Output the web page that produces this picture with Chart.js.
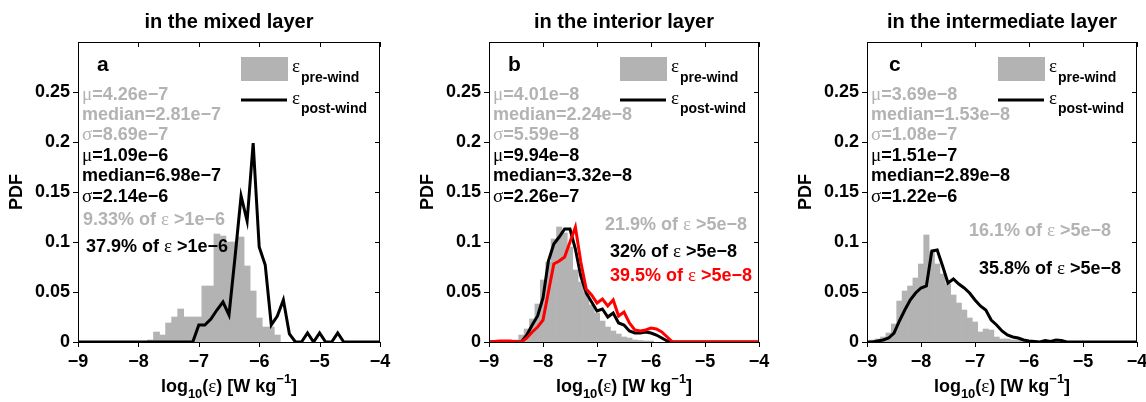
<!DOCTYPE html>
<html><head><meta charset="utf-8">
<script src="https://cdn.jsdelivr.net/npm/chart.js@4.4.1/dist/chart.umd.min.js"></script>
<style>
html,body{margin:0;padding:0;background:#fff;overflow:hidden;width:1146px;height:402px;}
canvas{position:absolute;top:0;}
</style></head><body>
<canvas id="ca" width="400" height="402" style="left:0px"></canvas>
<canvas id="cb" width="392" height="402" style="left:390px"></canvas>
<canvas id="cc" width="392" height="402" style="left:770px"></canvas>
<script>
// ---------- data ----------
const xTicks = [-9, -8, -7, -6, -5, -4];
const yTicks = [0, 0.05, 0.1, 0.15, 0.2, 0.25];
const titles = ['in the mixed layer', 'in the interior layer', 'in the intermediate layer'];
const panelLetters = ['a', 'b', 'c'];

// panel a (mixed layer)
const preA_x = [-7.8,-7.7,-7.6,-7.5,-7.4,-7.3,-7.2,-7.1,-7.0,-6.9,-6.8,-6.7,-6.6,-6.5,-6.4,-6.3,-6.2,-6.1,-6.0,-5.9,-5.8,-5.7];
const preA_y = [0.002,0.010,0.007,0.019,0.025,0.033,0.025,0.025,0.025,0.056,0.056,0.108,0.106,0.100,0.100,0.105,0.076,0.051,0.024,0.015,0.015,0.007];
const postA_x = [-9,-7.1,-7.0,-6.9,-6.8,-6.7,-6.6,-6.5,-6.4,-6.3,-6.2,-6.1,-6.0,-5.9,-5.8,-5.7,-5.6,-5.5,-5.4,-5.3,-5.2,-5.1,-5.0,-4.9,-4.8,-4.7,-4.6,-4];
const postA_y = [0,0,0.017,0.017,0.023,0.032,0.040,0.027,0.085,0.146,0.121,0.199,0.095,0.077,0.017,0.026,0.042,0.008,0,0,0.009,0,0.009,0,0,0.009,0,0];

// panel b (interior layer)
const preB_x = [-8.7,-8.6,-8.5,-8.4,-8.3,-8.2,-8.1,-8.0,-7.9,-7.8,-7.7,-7.6,-7.5,-7.4,-7.3,-7.2,-7.1,-7.0,-6.9,-6.8,-6.7,-6.6,-6.5,-6.4,-6.3,-6.2,-6.1,-6.0];
const preB_y = [0.0005,0.001,0.002,0.007,0.013,0.023,0.038,0.062,0.080,0.103,0.115,0.109,0.095,0.072,0.060,0.049,0.037,0.029,0.021,0.015,0.011,0.008,0.005,0.004,0.002,0.0015,0.001,0.001];
const postB_x = [-9,-8.4,-8.3,-8.2,-8.1,-8.0,-7.9,-7.8,-7.7,-7.6,-7.5,-7.4,-7.3,-7.2,-7.1,-7.0,-6.9,-6.8,-6.7,-6.6,-6.5,-6.4,-6.3,-6.2,-6.1,-6.0,-5.9,-5.8,-5.7,-5.6,-4];
const postB_y = [0,0,0.007,0.017,0.026,0.044,0.081,0.098,0.105,0.113,0.113,0.093,0.066,0.049,0.040,0.031,0.033,0.025,0.029,0.019,0.017,0.011,0.009,0.009,0.010,0.009,0.007,0.004,0.001,0,0];
const redB_x = [-9,-8.8,-8.7,-8.6,-8.5,-8.4,-8.3,-8.2,-8.1,-8.0,-7.9,-7.8,-7.7,-7.6,-7.5,-7.4,-7.3,-7.2,-7.1,-7.0,-6.9,-6.8,-6.7,-6.6,-6.5,-6.4,-6.3,-6.2,-6.1,-6.0,-5.9,-5.8,-5.7,-5.6,-4];
const redB_y = [0,0.001,0.001,0.001,0,0,0.004,0.010,0.015,0.022,0.050,0.078,0.081,0.085,0.100,0.115,0.080,0.053,0.047,0.039,0.043,0.036,0.042,0.026,0.030,0.019,0.012,0.011,0.012,0.014,0.013,0.010,0.005,0,0];

// panel c (intermediate layer)
const preC_x = [-8.9,-8.8,-8.7,-8.6,-8.5,-8.4,-8.3,-8.2,-8.1,-8.0,-7.9,-7.8,-7.7,-7.6,-7.5,-7.4,-7.3,-7.2,-7.1,-7.0,-6.9,-6.8,-6.7,-6.6,-6.5,-6.4,-6.3,-6.2,-6.1,-6.0,-5.9,-5.8,-5.7,-5.6,-5.5];
const preC_y = [0.002,0.003,0.005,0.009,0.018,0.041,0.051,0.056,0.064,0.078,0.107,0.090,0.078,0.068,0.058,0.047,0.039,0.032,0.024,0.020,0.010,0.013,0.012,0.005,0.003,0.003,0.002,0.002,0.001,0.001,0.001,0.0005,0.0005,0.0005,0.0005];
const postC_x = [-9,-8.9,-8.8,-8.7,-8.6,-8.5,-8.4,-8.3,-8.2,-8.1,-8.0,-7.9,-7.8,-7.7,-7.6,-7.5,-7.4,-7.3,-7.2,-7.1,-7.0,-6.9,-6.8,-6.7,-6.6,-6.5,-6.4,-6.3,-6.2,-6.1,-6.0,-5.9,-5.8,-5.7,-5.6,-5.5,-5.4,-5.3,-4];
const postC_y = [0,0,0.001,0.002,0.004,0.009,0.021,0.032,0.042,0.049,0.054,0.056,0.091,0.092,0.076,0.059,0.063,0.058,0.054,0.049,0.042,0.036,0.032,0.022,0.017,0.011,0.007,0.005,0.004,0.002,0.001,0.0005,0,0.0015,0.0005,0.002,0.0015,0,0];

// annotation texts
const statsA = ['μ=4.26e−7','median=2.81e−7','σ=8.69e−7','μ=1.09e−6','median=6.98e−7','σ=2.14e−6'];
const statsB = ['μ=4.01e−8','median=2.24e−8','σ=5.59e−8','μ=9.94e−8','median=3.32e−8','σ=2.26e−7'];
const statsC = ['μ=3.69e−8','median=1.53e−8','σ=1.08e−7','μ=1.51e−7','median=2.89e−8','σ=1.22e−6'];
const pctA = ['9.33% of ε >1e−6','37.9% of ε >1e−6'];
const pctB = ['21.9% of ε >5e−8','32% of ε >5e−8','39.5% of ε >5e−8'];
const pctC = ['16.1% of ε >5e−8','35.8% of ε >5e−8'];
const legendLabels = ['pre-wind', 'post-wind'];

// ---------- styling / drawing ----------
const FONT = "'Liberation Sans', Arial, Helvetica, sans-serif";
const GREEK = "'Liberation Serif', 'DejaVu Serif', serif";
const GRAY = '#b3b3b3';
const RED = '#ff0000';

function runs(str){
  const out=[]; for(const ch of str){ const g=/[μσε]/.test(ch);
    if(out.length && out[out.length-1].g===g) out[out.length-1].t+=ch; else out.push({t:ch,g}); }
  return out;
}
function fontFor(g,size){ return g ? `${Math.round(size*1.05)}px ${GREEK}` : `bold ${size}px ${FONT}`; }
function richWidth(ctx,str,size){ let w=0; for(const r of runs(str)){ ctx.font=fontFor(r.g,size); w+=ctx.measureText(r.t).width; } return w; }
function drawRich(ctx,str,x,y,color,size){
  ctx.fillStyle=color; ctx.textBaseline='alphabetic'; ctx.textAlign='left';
  for(const r of runs(str)){ ctx.font=fontFor(r.g,size); ctx.fillText(r.t,x,y); x+=ctx.measureText(r.t).width; }
  return x;
}
function pts(xs,ys){ return xs.map((x,i)=>({x, y: ys[i]})); }
function fmtX(v){ return v<0 ? '\u2212'+(-v) : String(v); }

function makePanel(id, o){
  const deco = {
    id:'deco',
    afterDraw(chart){
      const ctx=chart.ctx, a=chart.chartArea, xs=chart.scales.x, ys=chart.scales.y;
      const L=Math.round(a.left), R=Math.round(a.right), T=Math.round(a.top), B=Math.round(a.bottom);
      ctx.save();
      ctx.strokeStyle='#000'; ctx.lineWidth=1;
      ctx.strokeRect(L+0.5,T+0.5,R-L-1,B-T);
      ctx.beginPath();
      xTicks.forEach(v=>{ const p=Math.round(xs.getPixelForValue(v))+0.5;
        ctx.moveTo(p,B); ctx.lineTo(p,B+5); ctx.moveTo(p,T); ctx.lineTo(p,T+5); });
      yTicks.forEach(v=>{ const p=Math.round(ys.getPixelForValue(v))+0.5;
        ctx.moveTo(L-5,p); ctx.lineTo(L,p); ctx.moveTo(R-5,p); ctx.lineTo(R,p); });
      ctx.stroke();
      // title
      ctx.fillStyle='#000'; ctx.font=`bold 20px ${FONT}`; ctx.textAlign='center'; ctx.textBaseline='alphabetic';
      ctx.fillText(o.title,(L+R)/2,28);
      // letter
      ctx.textAlign='left'; ctx.font=`bold 21px ${FONT}`;
      ctx.fillText(o.letter,L+o.letterDx,71);
      // PDF label
      ctx.save(); ctx.translate(L-61,(T+B)/2); ctx.rotate(-Math.PI/2);
      ctx.textAlign='center'; ctx.textBaseline='middle'; ctx.font=`bold 18px ${FONT}`; ctx.fillText('PDF',0,0); ctx.restore();
      // x label
      const parts=[{t:'log',s:18,dy:0},{t:'10',s:13,dy:6},{t:'(ε) [W kg',s:18,dy:0},{t:'−1',s:13,dy:-9},{t:']',s:18,dy:0}];
      let tw=0; parts.forEach(p=>tw+=richWidth(ctx,p.t,p.s));
      let xx=(L+R)/2-tw/2;
      parts.forEach(p=>{ xx=drawRich(ctx,p.t,xx,392+p.dy,'#000',p.s); });
      // stats
      o.stats.forEach((s,i)=>{ drawRich(ctx,s,L+4,T+51+20.4*i+6.5, i<3?GRAY:'#000',18); });
      o.pcts.forEach(p=>{ drawRich(ctx,p.t,L+p.dx,p.cy+6.5,p.c,18); });
      // legend
      ctx.fillStyle=GRAY; ctx.fillRect(R-139,57,47,24);
      ctx.strokeStyle='#000'; ctx.lineWidth=3; ctx.beginPath(); ctx.moveTo(R-139,100); ctx.lineTo(R-93,100); ctx.stroke();
      let ex=drawRich(ctx,'ε',R-88,72,'#000',18);
      ctx.font=`bold 14px ${FONT}`; ctx.fillText(legendLabels[0],ex+1,82);
      ex=drawRich(ctx,'ε',R-88,104,'#000',18);
      ctx.font=`bold 14px ${FONT}`; ctx.fillText(legendLabels[1],ex+1,113);
      ctx.restore();
    }
  };
  const datasets=[{type:'bar', data:pts(o.preX,o.preY), backgroundColor:GRAY, borderWidth:0,
      barPercentage:1, categoryPercentage:1, order:3}];
  o.lines.forEach((ln,i)=>datasets.push({type:'line', data:pts(ln.x,ln.y), borderColor:ln.color,
      borderWidth:3, pointRadius:0, tension:0, fill:false, order:ln.order, borderJoinStyle:'miter'}));
  return new Chart(document.getElementById(id), {
    type:'bar',
    data:{datasets},
    plugins:[deco],
    options:{
      responsive:false, animation:false, devicePixelRatio:1,
      layout:{padding:{left:0, top:42, right:o.padRight, bottom:0}},
      plugins:{legend:{display:false}, tooltip:{enabled:false}},
      scales:{
        x:{type:'linear', min:-9, max:-4, offset:false,
           afterBuildTicks:s=>{ s.ticks=xTicks.map(v=>({value:v})); },
           afterFit:s=>{ s.height=60; },
           grid:{display:false, drawTicks:false}, border:{display:false},
           ticks:{callback:v=>fmtX(v), color:'#000', padding:9, maxRotation:0, autoSkip:false, font:{family:FONT, size:18, weight:'bold'}}},
        y:{type:'linear', min:0, max:0.3,
           afterBuildTicks:s=>{ s.ticks=yTicks.map(v=>({value:v})); },
           afterFit:s=>{ s.width=o.yWidth; },
           grid:{display:false, drawTicks:false}, border:{display:false},
           ticks:{callback:v=>String(v), color:'#000', padding:8, autoSkip:false, font:{family:FONT, size:18, weight:'bold'}}}
      }
    }
  });
}

makePanel('ca',{title:titles[0], letter:panelLetters[0], letterDx:19, yWidth:78, padRight:20,
  preX:preA_x, preY:preA_y,
  lines:[{x:postA_x,y:postA_y,color:'#000',order:1}],
  stats:statsA,
  pcts:[{t:pctA[0],dx:5,cy:218,c:GRAY},{t:pctA[1],dx:8,cy:245,c:'#000'}]});
makePanel('cb',{title:titles[1], letter:panelLetters[1], letterDx:19, yWidth:99, padRight:23,
  preX:preB_x, preY:preB_y,
  lines:[{x:postB_x,y:postB_y,color:'#000',order:1},{x:redB_x,y:redB_y,color:RED,order:0}],
  stats:statsB,
  pcts:[{t:pctB[0],dx:116,cy:223,c:GRAY},{t:pctB[1],dx:121,cy:250,c:'#000'},{t:pctB[2],dx:121,cy:274,c:RED}]});
makePanel('cc',{title:titles[2], letter:panelLetters[2], letterDx:22, yWidth:97, padRight:25,
  preX:preC_x, preY:preC_y,
  lines:[{x:postC_x,y:postC_y,color:'#000',order:1}],
  stats:statsC,
  pcts:[{t:pctC[0],dx:102,cy:229,c:GRAY},{t:pctC[1],dx:112,cy:267,c:'#000'}]});
</script>
</body></html>
